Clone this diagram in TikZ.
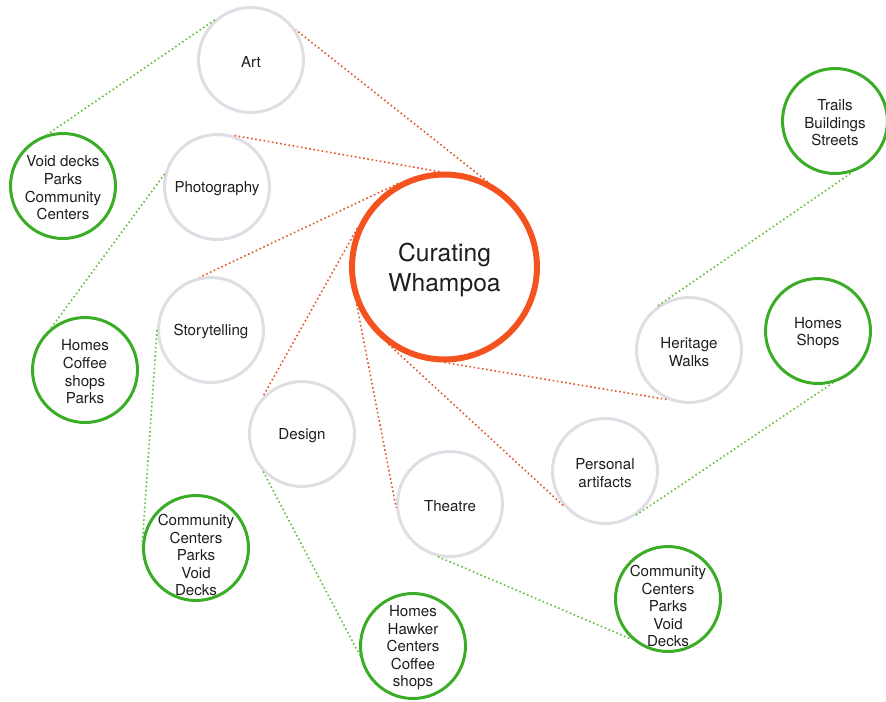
\documentclass[tikz,border=0pt]{standalone}
\usepackage{fontspec}
\setmainfont{TeX Gyre Heros}
\begin{document}
\begin{tikzpicture}[x=0.02cm,y=-0.02cm,
  ring/.style={circle,line width=1.7pt,minimum size=2.1cm,inner sep=0pt},
  topic/.style={ring,draw=greyring},
  place/.style={ring,draw=greenring},
  hub/.style={circle,draw=hubring,line width=3.4pt,minimum size=3.7cm,inner sep=0pt},
  lbl/.style={align=center,inner sep=0pt,font=\fontsize{8.6}{10}\selectfont,text=txt,yshift=-1.1pt},
  hublbl/.style={align=center,inner sep=0pt,font=\fontsize{14}{16.8}\selectfont,text=txt,yshift=-1.8pt},
  redlink/.style={draw=redline,line width=0.9pt,dash pattern=on 0.9pt off 1.5pt},
  greenlink/.style={draw=greenline,line width=0.9pt,dash pattern=on 0.9pt off 1.5pt}]
\definecolor{greyring}{RGB}{222,222,228}
\definecolor{greenring}{RGB}{58,172,38}
\definecolor{hubring}{RGB}{244,82,30}
\definecolor{redline}{RGB}{226,84,40}
\definecolor{greenline}{RGB}{96,190,56}
\definecolor{txt}{RGB}{30,30,30}
\useasboundingbox (0,0) rectangle (886,701);

% central theme
\node[hub,label={[hublbl]center:Curating\\Whampoa}] (hub) at (444.5,267) {};

% practices
\node[topic,label={[lbl]center:Art}] (art) at (251,60) {};
\node[topic,label={[lbl]center:Photography}] (photo) at (217,187) {};
\node[topic,label={[lbl]center:Storytelling}] (story) at (211,330) {};
\node[topic,label={[lbl]center:Design}] (design) at (302,434) {};
\node[topic,label={[lbl]center:Theatre}] (theatre) at (450,504) {};
\node[topic,label={[lbl]center:Personal\\artifacts}] (personal) at (605,471) {};
\node[topic,label={[lbl]center:Heritage\\Walks}] (heritage) at (689,350) {};

% places
\node[place,label={[lbl]center:Void decks\\Parks\\Community\\Centers}] (voiddecks) at (63,186) {};
\node[place,label={[lbl]center:Homes\\Coffee\\shops\\Parks}] (homescoffee) at (85,370) {};
\node[place,label={[lbl,yshift=-3pt]center:Community\\Centers\\Parks\\Void\\Decks}] (ccleft) at (196,548) {};
\node[place,label={[lbl]center:Homes\\Hawker\\Centers\\Coffee\\shops}] (hawker) at (413,646) {};
\node[place,label={[lbl,yshift=-3pt]center:Community\\Centers\\Parks\\Void\\Decks}] (ccright) at (668,599) {};
\node[place,label={[lbl]center:Homes\\Shops}] (shops) at (818,331) {};
\node[place,label={[lbl]center:Trails\\Buildings\\Streets}] (trails) at (835,121) {};

% theme to practices
\draw[redlink] (hub.63)  -- (art.34);
\draw[redlink] (hub.93)  -- (photo.74);
\draw[redlink] (hub.119) -- (story.102);
\draw[redlink] (hub.156) -- (design.137);
\draw[redlink] (hub.203) -- (theatre.184);
\draw[redlink] (hub.234) -- (personal.221);
\draw[redlink] (hub.270) -- (heritage.247);

% practices to places
\draw[greenlink] (art.132) -- (voiddecks.107);
\draw[greenlink] (photo.166) -- (homescoffee.129);
\draw[greenlink] (story.180) -- (ccleft.180);
\draw[greenlink] (design.224) -- (hawker.190);
\draw[greenlink] (theatre.257) -- (ccright.229);
\draw[greenlink] (personal.305) -- (shops.286);
\draw[greenlink] (heritage.125) -- (trails.289);
\end{tikzpicture}
\end{document}
